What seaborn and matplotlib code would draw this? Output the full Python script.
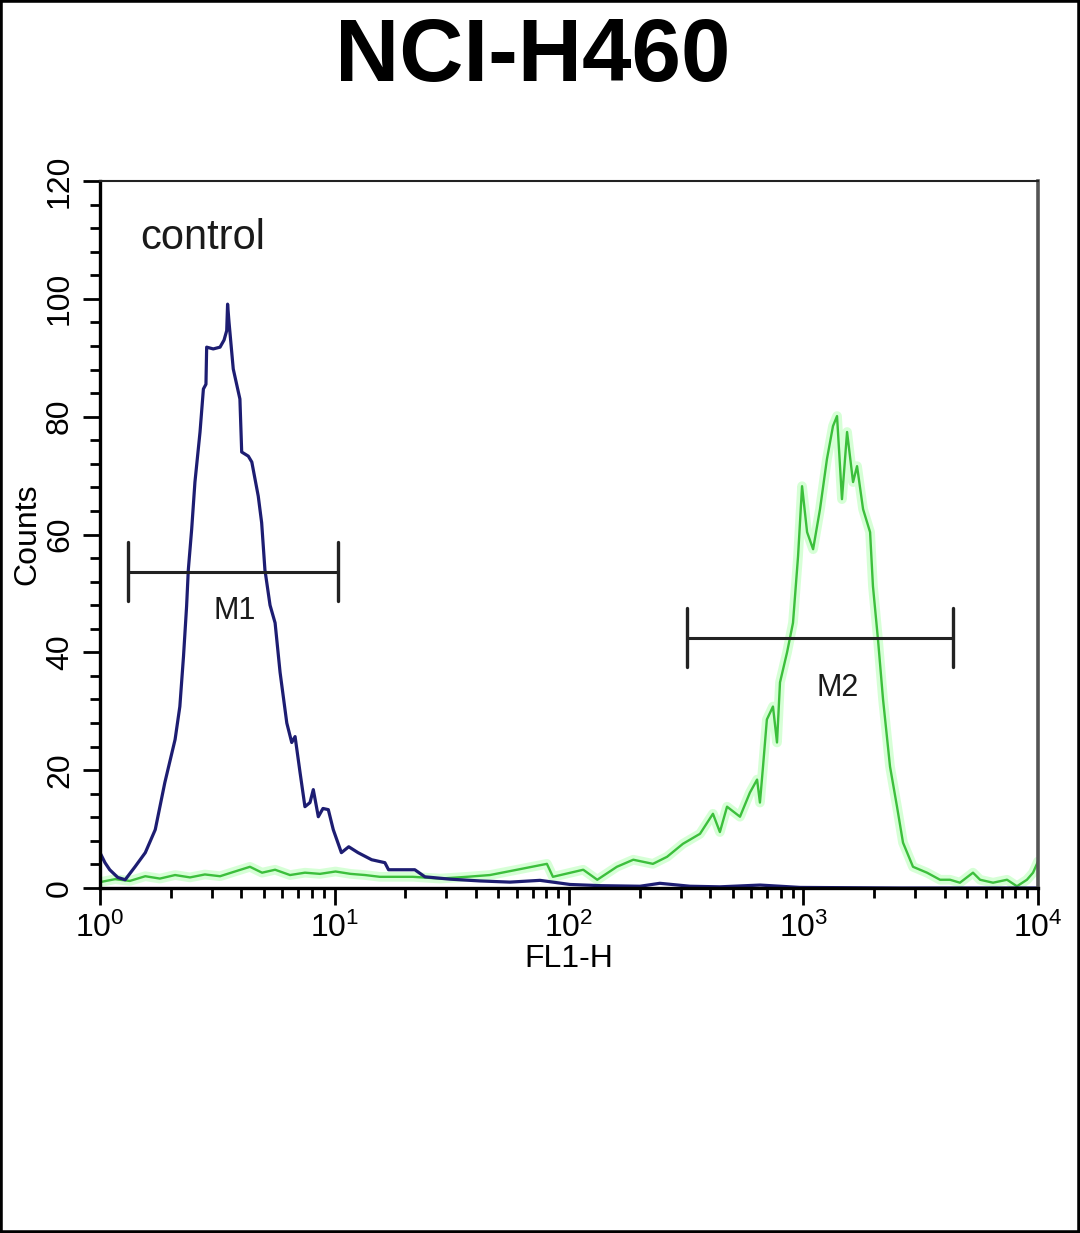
import numpy as np
import pandas as pd
import matplotlib
matplotlib.use('Agg')
import matplotlib.pyplot as plt
import seaborn as sns
from matplotlib.ticker import LogLocator, MultipleLocator, NullFormatter
from matplotlib.patches import Rectangle

# control histogram (blue)
blue_x = [1.0, 1.05, 1.10, 1.19, 1.28, 1.41, 1.56, 1.72, 1.89, 2.09,
          2.19, 2.27, 2.34, 2.38, 2.46, 2.54, 2.67, 2.76, 2.83, 2.85,
          3.04, 3.25, 3.38, 3.47, 3.50, 3.55, 3.58, 3.70, 3.95, 4.02,
          4.29, 4.44, 4.73, 4.89, 5.05, 5.31, 5.58, 5.86, 6.26, 6.57,
          6.79, 7.13, 7.48, 7.86, 8.12, 8.53, 8.93, 9.41, 9.88, 10.7,
          11.5, 12.6, 14.4, 16.4, 17.0, 22.0, 24.3, 31.1, 41.7, 56.0,
          75.2, 101, 136, 201, 244, 328, 440, 653, 966, 2600, 10000]
blue_y = [6.0, 4.3, 3.1, 1.8, 1.4, 3.6, 6.0, 9.9, 17.9, 25.2,
          30.8, 39.3, 47.8, 54.0, 60.9, 68.9, 77.4, 84.7, 85.5, 91.8,
          91.5, 91.8, 93.0, 94.6, 99.1, 96.0, 94.4, 88.1, 83.0, 74.0,
          73.3, 72.3, 66.5, 62.0, 54.0, 48.0, 45.0, 36.6, 28.0, 24.7,
          25.7, 19.6, 13.8, 14.5, 16.7, 12.1, 13.5, 13.3, 9.9, 6.0,
          7.0, 6.0, 4.8, 4.3, 3.1, 3.1, 1.9, 1.5, 1.2, 1.0,
          1.3, 0.6, 0.4, 0.3, 0.8, 0.3, 0.2, 0.5, 0.1, 0.0, 0.0]

# stained sample (green)
green_x = [1.0, 1.16, 1.34, 1.56, 1.80, 2.09, 2.42, 2.80, 3.25, 3.76,
           4.36, 4.91, 5.58, 6.46, 7.48, 8.67, 10.1, 11.7, 13.5, 15.6,
           21.6, 28.2, 36.7, 46.0, 60.0, 80.5, 85.4, 115, 132, 160,
           188, 228, 262, 306, 362, 411, 440, 472, 536, 591,
           634, 652, 672, 698, 741, 771, 794, 851, 902, 948,
           986, 1036, 1099, 1176, 1259, 1336, 1390, 1459, 1534, 1627,
           1692, 1795, 1923, 1978, 2078, 2184, 2339, 2505, 2657, 2931,
           3363, 3822, 4217, 4646, 5282, 5663, 6432, 7378, 8133, 8970,
           9525, 10000]
green_y = [1.0, 1.5, 1.2, 2.0, 1.6, 2.2, 1.8, 2.3, 2.0, 2.8,
           3.6, 2.6, 3.1, 2.2, 2.6, 2.4, 2.8, 2.4, 2.2, 1.9,
           1.9, 1.6, 1.9, 2.2, 3.1, 4.1, 1.9, 3.1, 1.4, 3.6,
           4.8, 4.1, 5.3, 7.5, 9.2, 12.6, 9.5, 13.8, 12.1, 16.2,
           18.4, 14.5, 20.6, 28.6, 30.8, 24.7, 34.9, 40.0, 45.0, 56.3,
           68.2, 60.4, 57.5, 64.3, 72.8, 78.4, 80.1, 66.0, 77.4, 68.9,
           71.6, 64.3, 60.4, 51.2, 42.2, 32.0, 20.6, 13.8, 7.7, 3.6,
           2.6, 1.4, 1.4, 0.9, 2.6, 1.4, 0.9, 1.4, 0.3, 1.4,
           2.6, 4.5]

# gates
gate_names = ['M1', 'M2']
gate_lo = [1.32, 318]
gate_hi = [10.35, 4350]
gate_y = [53.7, 42.5]
gate_label_x = [3.76, 1400]
gate_label_y = [47.0, 34.0]

xtick_vals = [1, 10, 100, 1000, 10000]
xtick_labels = ['$10^{0}$', '$10^{1}$', '$10^{2}$', '$10^{3}$', '$10^{4}$']
ytick_vals = [0, 20, 40, 60, 80, 100, 120]

df = pd.concat([
    pd.DataFrame({'FL1-H': blue_x, 'Counts': blue_y, 'sample': 'control'}),
    pd.DataFrame({'FL1-H': green_x, 'Counts': green_y, 'sample': 'stained'}),
], ignore_index=True)

sns.set_style('ticks')
plt.rcParams['font.family'] = ['Liberation Sans', 'DejaVu Sans']
plt.rcParams['mathtext.fontset'] = 'custom'
plt.rcParams['mathtext.rm'] = 'Liberation Sans'
plt.rcParams['mathtext.it'] = 'Liberation Sans:italic'
plt.rcParams['mathtext.bf'] = 'Liberation Sans:bold'
plt.rcParams['text.color'] = 'black'
plt.rcParams['axes.labelcolor'] = 'black'

fig = plt.figure(figsize=(10.8, 12.33), dpi=100)
ax = fig.add_axes([0.0926, 0.2798, 0.8685, 0.5734])

# soft glow under the green trace
sns.lineplot(data=df[df['sample'] == 'stained'], x='FL1-H', y='Counts',
             color='#8cff8c', lw=7, alpha=0.35, estimator=None, sort=False, ax=ax)
sns.lineplot(data=df[df['sample'] == 'stained'], x='FL1-H', y='Counts',
             color='#3cbf3c', lw=1.7, estimator=None, sort=False, ax=ax)
sns.lineplot(data=df[df['sample'] == 'control'], x='FL1-H', y='Counts',
             color='#1d1d72', lw=2.3, estimator=None, sort=False, ax=ax)

ax.set_xscale('log')
ax.set_xlim(1, 10000)
ax.set_ylim(0, 120)

ax.set_xticks(xtick_vals)
ax.set_xticklabels(xtick_labels)
ax.xaxis.set_minor_locator(LogLocator(base=10, subs=range(2, 10)))
ax.xaxis.set_minor_formatter(NullFormatter())
ax.set_yticks(ytick_vals)
ax.set_yticklabels([str(v) for v in ytick_vals], rotation=90, va='center')
ax.yaxis.set_minor_locator(MultipleLocator(4))

ax.tick_params(which='major', direction='out', length=12, width=2, labelsize=23,
               colors='black')
ax.tick_params(which='minor', direction='out', length=7, width=2, colors='black')
ax.tick_params(axis='y', pad=6)
ax.tick_params(axis='x', pad=6)

for side in ['left', 'bottom']:
    ax.spines[side].set_linewidth(2.4)
    ax.spines[side].set_color('black')
ax.spines['top'].set_linewidth(1.5)
ax.spines['top'].set_color('#222222')
ax.spines['right'].set_linewidth(2.6)
ax.spines['right'].set_color('#555555')

ax.set_xlabel('FL1-H', fontsize=23, labelpad=0)
ax.set_ylabel('Counts', fontsize=23, labelpad=2)

for name, lo, hi, y, lx, ly in zip(gate_names, gate_lo, gate_hi, gate_y, gate_label_x, gate_label_y):
    ax.plot([lo, hi], [y, y], color='#222222', lw=2.2)
    ax.plot([lo, lo], [y - 5, y + 5], color='#222222', lw=2.4)
    ax.plot([hi, hi], [y - 5, y + 5], color='#222222', lw=2.4)
    ax.text(lx, ly, name, fontsize=22, ha='center', va='center', color='#1a1a1a')

ax.text(1.48, 110.3, 'control', fontsize=30, va='center', color='#1a1a1a')

fig.text(0.493, 1 - 58 / 1233, 'NCI-H460', fontsize=64, fontweight='bold',
         ha='center', va='center', color='black')

fig.patches.append(Rectangle((0, 0), 1, 1, transform=fig.transFigure,
                             fill=False, lw=4, edgecolor='black'))

fig.savefig('out.png', dpi=100)
